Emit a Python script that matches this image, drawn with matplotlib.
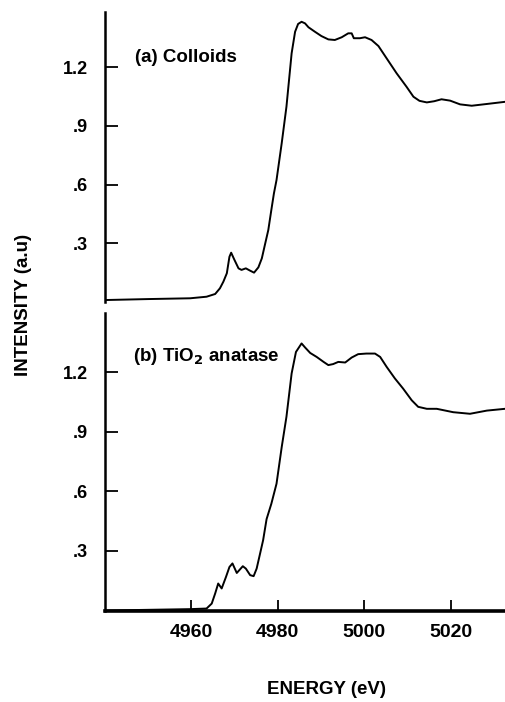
import matplotlib.pyplot as plt

plt.rcParams['font.family'] = ['Liberation Sans', 'DejaVu Sans']

# spectre (a) : colloides
energie_a = [4940.0, 4950.0, 4959.7, 4963.5, 4965.5, 4966.6, 4967.4, 4968.2, 4968.8,
             4969.2, 4969.9, 4970.9, 4971.6, 4972.6, 4973.6, 4974.5, 4975.5, 4976.3,
             4977.0, 4977.8, 4978.5, 4979.1, 4979.7, 4980.9, 4982.0, 4983.2, 4984.0,
             4984.7, 4985.5, 4986.3, 4987.1, 4988.6, 4990.1, 4991.7, 4993.2, 4994.8,
             4996.3, 4997.1, 4997.6, 4999.0, 5000.2, 5001.7, 5003.3, 5005.2, 5007.5,
             5009.8, 5011.4, 5012.8, 5014.5, 5016.2, 5017.9, 5019.9, 5022.2, 5024.9,
             5028.4, 5032.6]
intensite_a = [0.010, 0.015, 0.019, 0.027, 0.041, 0.070, 0.104, 0.147, 0.231,
               0.252, 0.218, 0.172, 0.164, 0.172, 0.160, 0.150, 0.177, 0.223,
               0.291, 0.368, 0.470, 0.555, 0.623, 0.811, 0.998, 1.271, 1.381,
               1.421, 1.432, 1.424, 1.404, 1.381, 1.359, 1.342, 1.339, 1.353,
               1.373, 1.373, 1.348, 1.348, 1.353, 1.339, 1.308, 1.245, 1.169,
               1.100, 1.049, 1.028, 1.020, 1.026, 1.036, 1.029, 1.010, 1.003,
               1.012, 1.023]

# spectre (b) : TiO2 anatase
energie_b = [4940.0, 4959.7, 4963.5, 4964.7, 4965.5, 4966.2, 4967.0, 4968.0, 4968.8,
             4969.5, 4970.5, 4971.2, 4971.9, 4972.6, 4973.6, 4974.4, 4975.1, 4975.9,
             4976.6, 4977.4, 4978.5, 4979.7, 4980.9, 4982.0, 4983.2, 4984.2, 4985.5,
             4986.3, 4987.5, 4989.0, 4990.6, 4991.7, 4992.8, 4994.0, 4995.6, 4997.1,
             4998.6, 5000.5, 5002.5, 5003.7, 5005.2, 5007.1, 5009.0, 5011.0, 5012.5,
             5014.5, 5016.8, 5020.6, 5024.5, 5028.4, 5032.6]
intensite_b = [0.000, 0.007, 0.010, 0.035, 0.086, 0.136, 0.111, 0.169, 0.219,
               0.237, 0.189, 0.206, 0.223, 0.211, 0.178, 0.173, 0.211, 0.287,
               0.354, 0.460, 0.537, 0.638, 0.822, 0.975, 1.193, 1.301, 1.344,
               1.324, 1.296, 1.276, 1.251, 1.235, 1.240, 1.251, 1.248, 1.273,
               1.290, 1.293, 1.293, 1.276, 1.226, 1.168, 1.117, 1.058, 1.025,
               1.015, 1.015, 0.998, 0.990, 1.006, 1.015]

yticks = [0.3, 0.6, 0.9, 1.2]
ytick_labels = ['.3', '.6', '.9', '1.2']
xticks = [4960, 4980, 5000, 5020]
xtick_labels = ['4960', '4980', '5000', '5020']

fig = plt.figure(figsize=(5.05, 7.02), dpi=100)
ax_a = fig.add_axes([0.208, 0.5698, 0.792, 0.4131])
ax_b = fig.add_axes([0.208, 0.1303, 0.792, 0.4238])

for ax, e, i, ymax in [(ax_a, energie_a, intensite_a, 1.482),
                       (ax_b, energie_b, intensite_b, 1.497)]:
    ax.plot(e, i, color='black', linewidth=1.4)
    ax.set_xlim(4940, 5032.6)
    ax.set_ylim(0, ymax)
    for cote in ['top', 'right']:
        ax.spines[cote].set_visible(False)
    ax.spines['left'].set_linewidth(1.8)
    ax.set_yticks(yticks)
    ax.set_yticklabels(ytick_labels, fontsize=13, fontweight='bold')
    ax.tick_params(axis='y', direction='in', length=9, width=1.3, pad=12)

# panneau du haut : pas d'axe des x
ax_a.spines['bottom'].set_visible(False)
ax_a.set_xticks([])

ax_b.spines['bottom'].set_linewidth(2.6)
ax_b.set_xticks(xticks)
ax_b.set_xticklabels(xtick_labels, fontsize=14, fontweight='bold')
ax_b.tick_params(axis='x', direction='in', length=8, width=1.3, pad=10)

ax_a.text(4946.9, 1.247, '(a) Colloids', fontsize=13.5, fontweight='bold', va='center')
ax_b.text(4946.4, 1.28, r'(b) TiO$_\mathbf{2}$ anatase', fontsize=13.5, fontweight='bold',
          va='center')

fig.text(0.046, 0.566, 'INTENSITY (a.u)', rotation=90, fontsize=13.5, fontweight='bold',
         ha='center', va='center')
fig.text(0.646, 0.005, 'ENERGY (eV)', fontsize=13.5, fontweight='bold', ha='center',
         va='bottom')

fig.savefig('out.png', dpi=100)
